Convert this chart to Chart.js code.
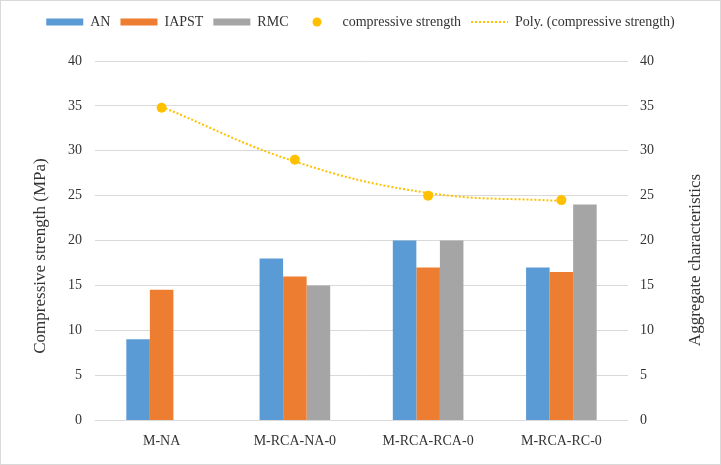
<!DOCTYPE html>
<html>
<head>
<meta charset="utf-8">
<script src="https://cdn.jsdelivr.net/npm/chart.js@4.4.1/dist/chart.umd.min.js"></script>
<style>
  html, body { margin: 0; padding: 0; background: #fff; }
  #wrap { width: 721px; height: 465px; box-sizing: border-box; border: 1px solid #d9d9d9; }
</style>
</head>
<body>
<div id="wrap"><canvas id="chart"></canvas></div>
<script>
// values
const categories = ["M-NA", "M-RCA-NA-0", "M-RCA-RCA-0", "M-RCA-RC-0"];
const anValues = [9, 18, 20, 17];
const iapstValues = [14.5, 16, 17, 16.5];
const rmcValues = [null, 15, 20, 24];
const strengthValues = [34.8, 29, 25, 24.5];
const trendValues = [34.9, 28.8, 25.3, 24.4];
const axisMin = 0;
const axisMax = 40;
const axisStep = 5;

const textColor = "#333333";
const gridColor = "#d9d9d9";
const yellow = "#FFC000";

Chart.defaults.font.family = "'Liberation Serif', 'Times New Roman', serif";
Chart.defaults.font.size = 14;
Chart.defaults.color = textColor;

// small yellow dot used as the legend marker of the scatter series
const dot = document.createElement("canvas");
dot.width = 10;
dot.height = 10;
const dctx = dot.getContext("2d");
dctx.fillStyle = yellow;
dctx.beginPath();
dctx.arc(5, 5, 4.5, 0, Math.PI * 2);
dctx.fill();

// extra room under the legend
const legendSpacing = {
  id: "legendSpacing",
  beforeInit(chart) {
    const fit = chart.legend.fit;
    chart.legend.fit = function () {
      fit.call(this);
      this.height += 22;
    };
  }
};

// axis titles, the right one reads bottom-to-top like in the original
const axisTitles = {
  id: "axisTitles",
  afterDraw(chart) {
    const c = chart.ctx;
    const draw = (text, x, y) => {
      c.save();
      c.translate(x, y);
      c.rotate(-Math.PI / 2);
      c.fillText(text, 0, 0);
      c.restore();
    };
    c.save();
    c.font = "17px 'Liberation Serif', serif";
    c.fillStyle = textColor;
    c.textAlign = "center";
    c.textBaseline = "middle";
    draw("Compressive strength (MPa)", 40, 255);
    draw("Aggregate characteristics", 695, 259);
    c.restore();
  }
};

const ctx = document.getElementById("chart");

new Chart(ctx, {
  type: "bar",
  data: {
    labels: categories,
    datasets: [
      { label: "AN", data: anValues, backgroundColor: "#5B9BD5", yAxisID: "y1", order: 2 },
      { label: "IAPST", data: iapstValues, backgroundColor: "#ED7D31", yAxisID: "y1", order: 2 },
      { label: "RMC", data: rmcValues, backgroundColor: "#A5A5A5", yAxisID: "y1", order: 2 },
      {
        type: "line",
        label: "compressive strength",
        data: strengthValues,
        yAxisID: "y",
        showLine: false,
        pointRadius: 5,
        pointBorderWidth: 0,
        pointBackgroundColor: yellow,
        borderColor: yellow,
        backgroundColor: yellow,
        order: 0
      },
      {
        type: "line",
        label: "Poly. (compressive strength)",
        data: trendValues,
        yAxisID: "y",
        borderColor: yellow,
        borderWidth: 2,
        borderDash: [2, 2],
        pointRadius: 0,
        tension: 0.4,
        fill: false,
        order: 1
      }
    ]
  },
  options: {
    responsive: true,
    maintainAspectRatio: false,
    animation: false,
    layout: { padding: { top: 4, left: 0, right: 0, bottom: 0 } },
    datasets: {
      bar: { barPercentage: 1, categoryPercentage: 0.53 }
    },
    plugins: {
      tooltip: { enabled: false },
      legend: {
        position: "top",
        labels: {
          usePointStyle: true,
          pointStyleWidth: 37,
          boxHeight: 7,
          padding: 10,
          color: textColor,
          generateLabels(chart) {
            const items = Chart.defaults.plugins.legend.labels.generateLabels(chart);
            items.sort((a, b) => a.datasetIndex - b.datasetIndex);
            items.forEach(it => {
              if (it.datasetIndex < 3) {
                it.pointStyle = "rect";
                it.lineWidth = 0;
              } else if (it.datasetIndex === 3) {
                it.pointStyle = dot;
              } else {
                it.pointStyle = "line";
                it.strokeStyle = yellow;
                it.lineWidth = 2;
                it.lineDash = [2, 2];
              }
            });
            return items;
          }
        }
      }
    },
    scales: {
      x: {
        grid: { display: false },
        border: { display: false },
        ticks: { padding: 5, color: textColor },
        afterFit: s => { s.height = 44; }
      },
      y: {
        position: "left",
        min: axisMin,
        max: axisMax,
        ticks: { stepSize: axisStep, padding: 13, color: textColor },
        grid: { color: gridColor, drawTicks: false },
        border: { display: false },
        afterFit: s => { s.width = 94; }
      },
      y1: {
        position: "right",
        min: axisMin,
        max: axisMax,
        ticks: { stepSize: axisStep, padding: 12, color: textColor },
        grid: { display: false, drawTicks: false },
        border: { display: false },
        afterFit: s => { s.width = 92; }
      }
    }
  },
  plugins: [legendSpacing, axisTitles]
});
</script>
</body>
</html>
